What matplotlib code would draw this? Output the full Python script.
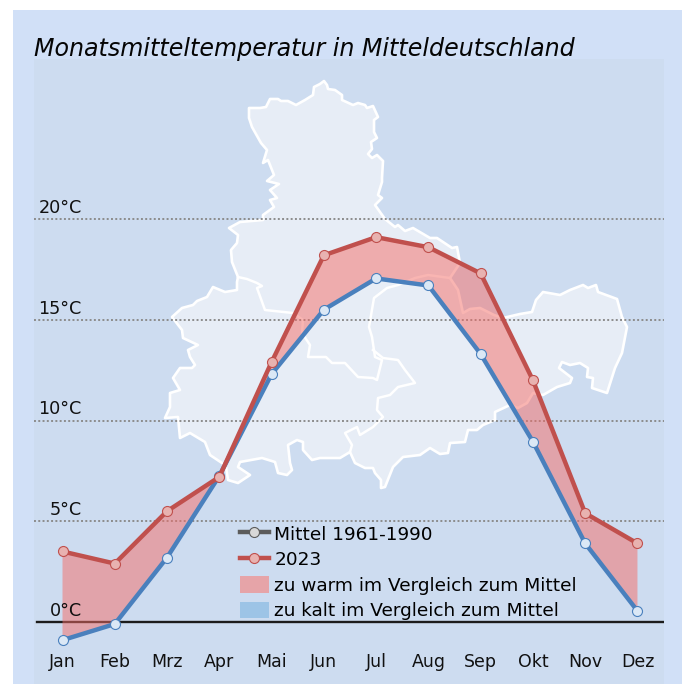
import matplotlib
matplotlib.use('Agg')
import matplotlib.pyplot as plt
from matplotlib.lines import Line2D
from matplotlib.patches import Patch, Rectangle

monate = ['Jan', 'Feb', 'Mrz', 'Apr', 'Mai', 'Jun', 'Jul', 'Aug', 'Sep', 'Okt', 'Nov', 'Dez']
mittel = [-0.9, -0.1, 3.2, 7.25, 12.3, 15.5, 17.05, 16.7, 13.3, 8.95, 3.9, 0.55]
temp_2023 = [3.5, 2.9, 5.5, 7.2, 12.9, 18.2, 19.1, 18.6, 17.3, 12.0, 5.4, 3.9]
grid_werte = [5, 10, 15, 20]
y_labels = ['0°C', '5°C', '10°C', '15°C', '20°C']

karte_aussen = [
    (249, 108), (260, 108), (266, 107), (270, 99), (278, 99), (281, 101), (288, 101), (296, 105),
    (305, 100), (313, 95), (314, 87), (320, 84), (324, 81), (327, 85), (328, 89), (335, 90),
    (342, 95), (342, 100), (353, 105), (358, 103), (365, 105), (367, 108), (373, 106), (378, 117),
    (374, 120), (374, 132), (377, 138), (371, 142), (372, 149), (368, 154), (372, 158), (377, 155),
    (383, 161), (382, 178), (382, 182), (378, 195), (382, 198), (375, 205), (385, 219), (395, 227),
    (398, 225), (405, 231), (413, 228), (430, 238), (437, 238), (452, 248), (457, 247), (460, 263),
    (450, 278), (458, 290), (463, 313), (470, 309), (480, 308), (494, 315), (503, 318), (520, 314),
    (532, 312), (536, 300), (543, 292), (560, 295), (570, 290), (583, 285), (588, 288), (596, 285),
    (598, 292), (617, 299), (622, 317), (627, 327),
    (622, 353), (615, 368), (607, 393), (592, 388), (593, 378), (587, 377), (588, 368), (580, 363),
    (570, 365), (562, 362), (559, 368), (572, 378), (570, 383), (557, 387), (543, 395), (533, 393),
    (527, 403), (518, 408), (510, 405), (495, 412), (495, 420), (483, 425), (477, 430), (468, 430),
    (465, 442), (450, 443), (448, 453), (440, 454), (430, 448), (420, 455), (403, 457), (393, 467),
    (385, 487), (381, 488), (381, 480), (375, 473), (373, 468), (365, 468), (355, 463), (350, 452),
    (340, 458), (320, 458), (312, 460), (303, 450), (303, 442), (297, 440), (288, 445), (290, 463),
    (292, 470), (287, 475), (278, 473), (275, 462), (262, 458), (240, 462), (238, 467), (250, 475),
    (238, 483), (228, 480), (226, 467), (222, 463), (210, 455), (205, 442), (190, 433), (180, 438),
    (178, 417), (165, 418), (170, 407), (170, 393), (180, 390), (173, 378), (180, 368), (192, 368),
    (195, 365), (190, 357), (188, 350), (198, 345), (183, 338), (182, 330), (172, 317), (182, 308),
    (193, 305), (197, 301), (207, 297), (213, 287), (225, 292), (237, 290), (237, 282), (238, 277),
    (232, 262), (231, 250), (237, 243), (238, 235), (229, 228), (240, 222), (263, 220), (263, 215),
    (274, 207), (270, 200), (277, 198), (270, 190), (279, 184), (267, 181), (274, 175), (268, 160),
    (263, 163), (267, 150), (261, 143), (252, 127), (249, 118),
]
# Grenzen zwischen den Ländern
grenze_west = [
    (238, 277), (247, 279), (257, 283), (262, 286), (257, 288), (265, 310), (293, 313), (303, 320),
    (302, 333), (310, 345), (308, 357), (326, 357), (332, 363), (345, 363), (358, 377), (373, 378),
    (377, 380), (382, 360), (375, 357), (372, 337), (369, 327), (374, 298), (387, 288), (398, 285),
    (415, 278), (428, 275), (450, 278),
]
grenze_sued = [
    (373, 350), (383, 358), (398, 360), (405, 370), (415, 383), (398, 387), (390, 395), (378, 398),
    (377, 410), (383, 417), (373, 427), (360, 435), (357, 427), (345, 433), (352, 445), (350, 452),
]

fig = plt.figure(figsize=(6.85, 6.84), dpi=100, facecolor='white')
W, H = 685, 684

# Hintergrund und Karte in Pixelkoordinaten
bg = fig.add_axes([0, 0, 1, 1])
bg.set_xlim(0, W)
bg.set_ylim(H, 0)
bg.axis('off')
bg.add_patch(Rectangle((13, 10), 669, 674, fc='#d1e0f7', ec='none'))
bg.add_patch(Rectangle((34, 59), 630, 625, fc='#cddcf0', ec='none'))
bg.fill([p[0] for p in karte_aussen], [p[1] for p in karte_aussen], fc='#e7edf6', ec='white', lw=1.9, joinstyle='round')
for g in [grenze_west, grenze_sued]:
    bg.plot([p[0] for p in g], [p[1] for p in g], color='white', lw=1.8)

x0, dx = 62.5, 52.27
y0, dy = 622, 20.15
ax = fig.add_axes([34 / W, 0, 630 / W, (H - 59) / H])
ax.patch.set_alpha(0)
ax.set_xlim((34 - x0) / dx, (664 - x0) / dx)
ax.set_ylim((y0 - H) / dy, (y0 - 59) / dy)
for s in ax.spines.values():
    s.set_visible(False)

x = list(range(len(monate)))
rot = '#c0504d'
blau = '#4a80bd'

for w in grid_werte:
    ax.axhline(w, color='#8c8c8c', lw=1.4, ls=(0, (1, 1.2)), zorder=2)
ax.plot([x[0] - 0.49, 11.51], [0, 0], color='#1c1c1c', lw=1.7, zorder=2)

warm = [a >= b for a, b in zip(temp_2023, mittel)]
kalt = [a < b for a, b in zip(temp_2023, mittel)]
ax.fill_between(x, mittel, temp_2023, where=warm, interpolate=True, fc='#f56c66', alpha=0.5, lw=0, zorder=3)
ax.fill_between(x, mittel, temp_2023, where=kalt, interpolate=True, fc='#6dacdc', alpha=0.5, lw=0, zorder=3)

ax.plot(x, mittel, color=blau, lw=3.2, marker='o', ms=7.2, mfc='#dbe8f6', mec=blau, mew=0.8, zorder=4)
ax.plot(x, temp_2023, color=rot, lw=3.2, marker='o', ms=7.2, mfc='#e8b2b0', mec=rot, mew=0.8, zorder=5)

# Monatsnamen liegen innerhalb der Achse
ax.set_xticks(x, monate, fontsize=12.5, color='#111111')
ax.tick_params(axis='x', length=0, pad=-22.5)
ax.set_yticks([])

for w, t in zip([0] + grid_werte, y_labels):
    ax.text(82, y0 - w * dy - 2, t, fontsize=12.7, color='#111111', ha='right', va='bottom',
            transform=bg.transData, zorder=6)

bg.text(34, 56, 'Monatsmitteltemperatur in Mitteldeutschland', fontsize=17.1, style='italic',
        color='#050505', ha='left', va='baseline')

handles = [
    Line2D([], [], color='#5c5c5c', lw=3.2, marker='o', ms=7.2, mfc='#d8d8d8', mec='#5c5c5c', mew=0.8),
    Line2D([], [], color=rot, lw=3.2, marker='o', ms=7.2, mfc='#e8b2b0', mec=rot, mew=0.8),
    Patch(fc='#e6a4a8', ec='none'),
    Patch(fc='#9dc4e6', ec='none'),
]
labels = ['Mittel 1961-1990', '2023', 'zu warm im Vergleich zum Mittel', 'zu kalt im Vergleich zum Mittel']
leg = ax.legend(handles, labels, loc='upper left', bbox_to_anchor=(240 / W, 1 - 525 / H), bbox_transform=fig.transFigure,
                frameon=False, fontsize=13.3, handlelength=1.55, handleheight=1.0, handletextpad=0.3,
                labelspacing=0.375, borderpad=0, borderaxespad=0)
leg.set_zorder(6)

fig.savefig('out.png', dpi=100)
